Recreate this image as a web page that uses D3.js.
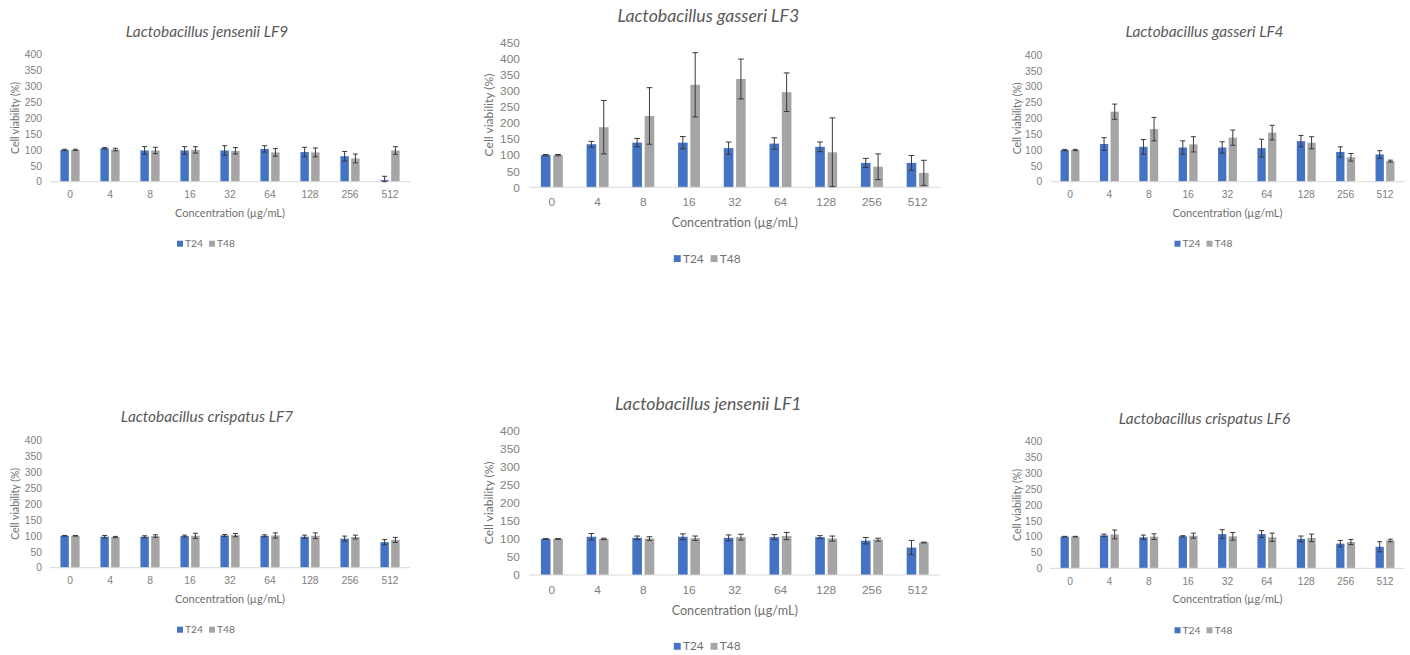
<!DOCTYPE html>
<html>
<head>
<meta charset="utf-8">
<script src="https://cdn.jsdelivr.net/npm/d3@7"></script>
<style>
  body { margin: 0; background: #fff; }
  svg { display: block; font-family: Lato, "Open Sans", sans-serif; }
</style>
</head>
<body>
<svg id="chart" width="1410" height="655"></svg>
<script>
/** Concentrations (µg/mL) shared by every panel */
var categories = ['0', '4', '8', '16', '32', '64', '128', '256', '512'];
var seriesNames = ['T24', 'T48'];

/** L. jensenii LF9 */
var lf9T24 = [100, 105, 98, 98, 98, 103, 93, 80, 5],
    lf9T24Err = [2, 2, 12, 12, 15, 10, 15, 15, 12],
    lf9T48 = [100, 101, 98, 100, 97, 92, 92, 73, 98],
    lf9T48Err = [2, 4, 10, 10, 10, 12, 14, 14, 12];

/** L. gasseri LF3 */
var lf3T24 = [100, 134, 139, 139, 122, 136, 126, 76, 76],
    lf3T24Err = [2, 9, 13, 19, 19, 18, 15, 14, 23],
    lf3T48 = [100, 187, 222, 319, 337, 296, 109, 64, 45],
    lf3T48Err = [2, 83, 88, 100, 62, 60, 107, 40, 39];

/** L. gasseri LF4 */
var lf4T24 = [100, 119, 110, 108, 108, 106, 128, 94, 86],
    lf4T24Err = [2, 20, 23, 21, 18, 28, 18, 16, 12],
    lf4T48 = [100, 221, 166, 118, 139, 155, 123, 77, 65],
    lf4T48Err = [2, 24, 37, 24, 24, 23, 19, 12, 3];

/** L. crispatus LF7 */
var lf7T24 = [100, 97, 97, 99, 101, 100, 97, 91, 80],
    lf7T24Err = [1, 4, 3, 3, 3, 3, 5, 8, 8],
    lf7T48 = [100, 96, 99, 100, 102, 101, 100, 96, 87],
    lf7T48Err = [1, 2, 4, 8, 5, 8, 9, 6, 8];

/** L. jensenii LF1 */
var lf1T24 = [100, 106, 103, 106, 103, 105, 105, 95, 76],
    lf1T24Err = [1, 9, 5, 8, 8, 7, 4, 9, 20],
    lf1T48 = [100, 100, 101, 102, 105, 108, 101, 98, 90],
    lf1T48Err = [1, 2, 5, 6, 8, 10, 7, 4, 1];

/** L. crispatus LF6 */
var lf6T24 = [100, 104, 98, 101, 108, 108, 93, 78, 68],
    lf6T24Err = [1, 4, 7, 2, 14, 11, 9, 10, 16],
    lf6T48 = [100, 107, 100, 103, 101, 98, 96, 83, 88],
    lf6T48Err = [1, 14, 9, 8, 12, 13, 12, 8, 4];

var colors = { T24: '#4472c4', T48: '#a5a5a5' };

/** Panel placement on the page */
var panels = [
    { title: 'Lactobacillus jensenii LF9', t24: lf9T24, e24: lf9T24Err, t48: lf9T48, e48: lf9T48Err,
      yMax: 400, left: 50, right: 410, top: 54.3, zero: 181.7, s: 1, yTitleX: 15 },
    { title: 'Lactobacillus gasseri LF3', t24: lf3T24, e24: lf3T24Err, t48: lf3T48, e48: lf3T48Err,
      yMax: 450, left: 529, right: 940.5, top: 42.7, zero: 187.3, s: 1.15, yTitleX: 489 },
    { title: 'Lactobacillus gasseri LF4', t24: lf4T24, e24: lf4T24Err, t48: lf4T48, e48: lf4T48Err,
      yMax: 400, left: 1050.3, right: 1404.7, top: 55, zero: 181.7, s: 1, yTitleX: 1017 },
    { title: 'Lactobacillus crispatus LF7', t24: lf7T24, e24: lf7T24Err, t48: lf7T48, e48: lf7T48Err,
      yMax: 400, left: 50, right: 410, top: 440, zero: 567.7, s: 1, yTitleX: 15 },
    { title: 'Lactobacillus jensenii LF1', t24: lf1T24, e24: lf1T24Err, t48: lf1T48, e48: lf1T48Err,
      yMax: 400, left: 529, right: 940.5, top: 430.7, zero: 575, s: 1.15, yTitleX: 489 },
    { title: 'Lactobacillus crispatus LF6', t24: lf6T24, e24: lf6T24Err, t48: lf6T48, e48: lf6T48Err,
      yMax: 400, left: 1050.3, right: 1404.7, top: 441.7, zero: 568.3, s: 1, yTitleX: 1017 }
];

var svg = d3.select('#chart');

panels.forEach(drawPanel);

function drawPanel(p) {
    var g = svg.append('g');
    var s = p.s;

    var x0 = d3.scaleBand()
        .domain(categories)
        .range([p.left, p.right])
        .paddingInner(0.52)
        .paddingOuter(0.26);

    var x1 = d3.scaleBand()
        .domain(seriesNames)
        .range([0, x0.bandwidth()])
        .paddingInner(0.22);

    var y = d3.scaleLinear()
        .domain([0, p.yMax])
        .range([p.zero, p.top]);

    var flat = d3.merge(categories.map(function(c, i) {
        return [
            { cat: c, key: 'T24', v: p.t24[i], e: p.e24[i] },
            { cat: c, key: 'T48', v: p.t48[i], e: p.e48[i] }
        ];
    }));

    // y axis: labels only, no line or gridlines
    var yAxis = d3.axisLeft(y)
        .tickValues(d3.range(0, p.yMax + 1, 50))
        .tickSize(0)
        .tickPadding(8 * s);
    var ya = g.append('g')
        .attr('transform', 'translate(' + p.left + ',0)')
        .call(yAxis);
    ya.select('.domain').remove();
    ya.selectAll('text')
        .attr('fill', '#808080')
        .style('font-size', (10.3 * s) + 'px');

    // bars
    g.selectAll('rect.bar')
        .data(flat)
        .enter()
        .append('rect')
        .attr('class', 'bar')
        .attr('x', function(d) { return x0(d.cat) + x1(d.key); })
        .attr('y', function(d) { return y(d.v); })
        .attr('width', x1.bandwidth())
        .attr('height', function(d) { return y(0) - y(d.v); })
        .attr('fill', function(d) { return colors[d.key]; });

    // x axis line
    g.append('line')
        .attr('x1', p.left).attr('x2', p.right)
        .attr('y1', y(0)).attr('y2', y(0))
        .attr('stroke', '#d9d9d9')
        .attr('stroke-width', 1);

    // error bars
    var cap = 2.5 * s;
    function cx(d) { return x0(d.cat) + x1(d.key) + x1.bandwidth() / 2; }
    function lo(d) { return y(Math.max(0, d.v - d.e)); }
    function hi(d) { return y(d.v + d.e); }
    var err = g.selectAll('g.err')
        .data(flat)
        .enter()
        .append('g')
        .attr('class', 'err')
        .attr('stroke', '#3a3a3a')
        .attr('stroke-width', 1);
    err.append('line')
        .attr('x1', cx).attr('x2', cx)
        .attr('y1', lo).attr('y2', hi);
    err.append('line')
        .attr('x1', function(d) { return cx(d) - cap; })
        .attr('x2', function(d) { return cx(d) + cap; })
        .attr('y1', hi).attr('y2', hi);
    err.append('line')
        .attr('x1', function(d) { return cx(d) - cap; })
        .attr('x2', function(d) { return cx(d) + cap; })
        .attr('y1', lo).attr('y2', lo);

    // category labels
    var xAxis = d3.axisBottom(x0).tickSize(0).tickPadding(9 * s);
    var xa = g.append('g')
        .attr('transform', 'translate(0,' + y(0) + ')')
        .call(xAxis);
    xa.select('.domain').remove();
    xa.selectAll('text')
        .attr('fill', '#808080')
        .style('font-size', (10.3 * s) + 'px');

    var plotMid = (p.left + p.right) / 2;
    var chartMid = plotMid - 23 * s;

    // axis titles
    g.append('text')
        .attr('x', plotMid)
        .attr('y', p.zero + 31 * s)
        .attr('dy', '0.35em')
        .attr('text-anchor', 'middle')
        .attr('fill', '#6f6f6f')
        .style('font-size', (11 * s) + 'px')
        .text('Concentration (µg/mL)');

    g.append('text')
        .attr('transform', 'translate(' + p.yTitleX + ',' + ((p.top + p.zero) / 2) + ') rotate(-90)')
        .attr('dy', '0.35em')
        .attr('text-anchor', 'middle')
        .attr('fill', '#6f6f6f')
        .style('font-size', (10.5 * s) + 'px')
        .text('Cell viability (%)');

    // chart title
    g.append('text')
        .attr('x', chartMid)
        .attr('y', p.top - 23 * s)
        .attr('dy', '0.35em')
        .attr('text-anchor', 'middle')
        .attr('fill', '#595959')
        .style('font-size', (15.4 * s) + 'px')
        .style('font-style', 'italic')
        .text(p.title);

    // legend
    var lg = g.append('g')
        .attr('transform', 'translate(' + chartMid + ',' + (p.zero + 62 * s) + ')');
    var itemW = 32 * s;
    var items = lg.selectAll('g')
        .data(seriesNames)
        .enter()
        .append('g')
        .attr('transform', function(d, i) { return 'translate(' + ((i - 1) * itemW + 2 * s) + ',0)'; });
    items.append('rect')
        .attr('x', 0)
        .attr('y', -3 * s)
        .attr('width', 6 * s)
        .attr('height', 6 * s)
        .attr('fill', function(d) { return colors[d]; });
    items.append('text')
        .attr('x', 8 * s)
        .attr('dy', '0.35em')
        .attr('fill', '#6f6f6f')
        .style('font-size', (10.3 * s) + 'px')
        .text(function(d) { return d; });
}
</script>
</body>
</html>
